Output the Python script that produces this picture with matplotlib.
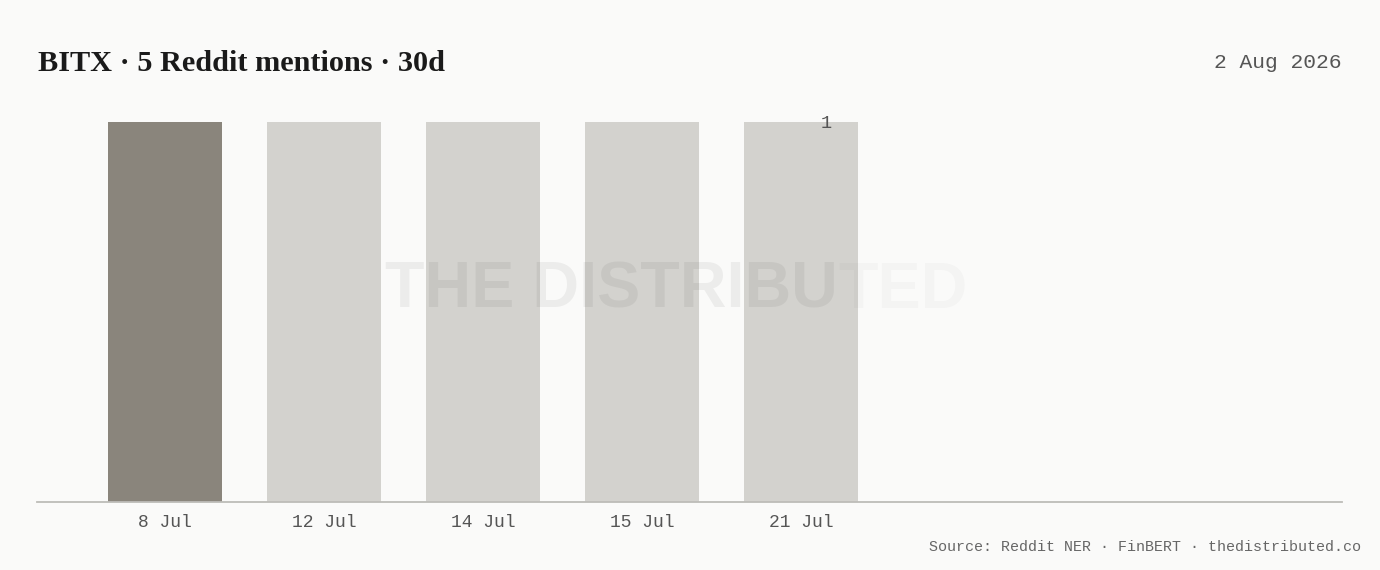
import matplotlib
matplotlib.use("Agg")
import matplotlib.pyplot as plt

categories = ["8 Jul", "12 Jul", "14 Jul", "15 Jul", "21 Jul"]
mentions = [1, 1, 1, 1, 1]
bar_colors = ["#8a857c", "#d3d2ce", "#d3d2ce", "#d3d2ce", "#d3d2ce"]
title = "BITX · 5 Reddit mentions · 30d"
date_label = "2 Aug 2026"
source = "Source: Reddit NER · FinBERT · thedistributed.co"

BG = "#fafaf9"
W, H = 1380, 570
fig = plt.figure(figsize=(W / 100, H / 100), dpi=100, facecolor=BG)

ax_left, ax_right, ax_bottom, ax_top = 37, 1342, 501.5, 122
ax = fig.add_axes([ax_left / W, 1 - ax_bottom / H, (ax_right - ax_left) / W, (ax_bottom - ax_top) / H])
ax.set_facecolor(BG)

x = list(range(len(categories)))
ax.bar(x, mentions, width=0.72, color=bar_colors, zorder=2)
ax.set_xlim(-0.805, 7.40)
ax.set_ylim(0, max(mentions))

for s in ["top", "right", "left"]:
    ax.spines[s].set_visible(False)
ax.spines["bottom"].set_color("#bdbcb8")
ax.spines["bottom"].set_linewidth(1.3)
ax.spines["bottom"].set_zorder(3)
ax.set_yticks([])
ax.set_xticks(x)
ax.set_xticklabels(categories, family="Liberation Mono", fontsize=13, color="#555555")
ax.tick_params(axis="x", length=0, pad=9)

# value label on last bar
ax.annotate(str(mentions[-1]), xy=(x[-1], mentions[-1]), xytext=(25, -2),
            textcoords="offset pixels", family="Liberation Mono", fontsize=13.5,
            color="#555555", ha="center", va="center", annotation_clip=False, zorder=4)

# watermark
wm_kw = dict(family="Liberation Sans", fontweight="bold", fontsize=46.5, color="#000000",
             va="baseline", ha="left", zorder=5)
t1 = fig.text(385 / W, 1 - 308 / H, "THE DISTRIBU", alpha=0.055, **wm_kw)
fig.canvas.draw()
bb = t1.get_window_extent()
fig.text(bb.x1 / W, 1 - 308 / H, "TED", alpha=0.022, **wm_kw)

# title and header
fig.text(38 / W, 1 - 71 / H, title, family="Liberation Serif", fontweight="bold",
         fontsize=21.8, color="#1a1a1a", ha="left", va="baseline")
fig.text(1342 / W, 1 - 63 / H, date_label, family="Liberation Mono", fontsize=15.3,
         color="#555555", ha="right", va="center")
fig.text(1361 / W, 1 - 547 / H, source, family="Liberation Mono", fontsize=10.8,
         color="#666666", ha="right", va="center")

fig.savefig("out.png", dpi=100, facecolor=BG)
